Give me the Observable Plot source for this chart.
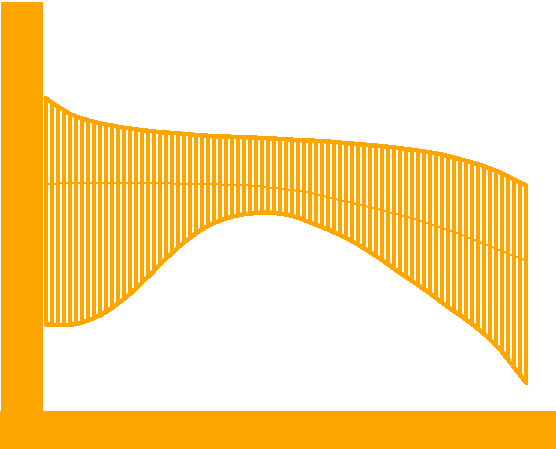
<!DOCTYPE html>
<html>
<head>
<meta charset="utf-8">
<script src="https://cdn.jsdelivr.net/npm/d3@7"></script>
<script src="https://cdn.jsdelivr.net/npm/@observablehq/plot@0.6"></script>
<style>
  body { margin: 0; background: #fff; }
  svg { shape-rendering: crispEdges; }
</style>
</head>
<body>
<div id="chart"></div>
<script>
// band, one value per step (81 steps)
const upper = [78.05, 77, 76, 75.05, 74.15, 73.53, 72.98, 72.58, 72.18, 71.78,
  71.5, 71.23, 70.93, 70.7, 70.5, 70.3, 70.1, 69.93, 69.75, 69.58,
  69.48, 69.38, 69.28, 69.15, 69.03, 68.9, 68.78, 68.68, 68.58, 68.48,
  68.45, 68.43, 68.4, 68.35, 68.28, 68.2, 68.13, 68.05, 67.98, 67.9,
  67.8, 67.7, 67.6, 67.53, 67.48, 67.43, 67.38, 67.25, 67.13, 66.98,
  66.85, 66.73, 66.6, 66.48, 66.35, 66.23, 66.1, 65.93, 65.75, 65.55,
  65.38, 65.18, 64.98, 64.75, 64.5, 64.25, 63.95, 63.58, 63.2, 62.83,
  62.4, 61.98, 61.55, 61.05, 60.48, 59.9, 59.25, 58.5, 57.75, 57, 56.15];

const middle = [56.7, 56.73, 56.75, 56.8, 56.8, 56.8, 56.8, 56.8, 56.8, 56.8,
  56.8, 56.8, 56.8, 56.8, 56.8, 56.8, 56.8, 56.8, 56.8, 56.8,
  56.8, 56.75, 56.75, 56.75, 56.75, 56.7, 56.65, 56.6, 56.55, 56.5,
  56.48, 56.45, 56.4, 56.33, 56.23, 56.1, 55.95, 55.78, 55.6, 55.43,
  55.25, 55.08, 54.93, 54.7, 54.43, 54.1, 53.7, 53.33, 52.95, 52.58,
  52.23, 51.88, 51.55, 51.2, 50.83, 50.45, 50.05, 49.65, 49.25, 48.85,
  48.45, 48.03, 47.6, 47.15, 46.68, 46.18, 45.68, 45.15, 44.6, 44.03,
  43.43, 42.83, 42.23, 41.63, 41.05, 40.45, 39.85, 39.2, 38.6, 38.03, 37.45];

const lower = [21.5, 21.43, 21.38, 21.38, 21.45, 21.63, 21.95, 22.5, 23.13, 23.75,
  24.63, 25.63, 26.75, 27.88, 29.13, 30.5, 31.93, 33.38, 34.88, 36.43,
  37.93, 39.35, 40.7, 41.95, 43.15, 44.25, 45.25, 46.1, 46.85, 47.5,
  48, 48.43, 48.78, 49.05, 49.25, 49.4, 49.48, 49.48, 49.4, 49.25,
  49, 48.63, 48.15, 47.63, 47.05, 46.45, 45.83, 45.2, 44.55, 43.85,
  43.1, 42.3, 41.43, 40.5, 39.55, 38.6, 37.6, 36.55, 35.45, 34.35,
  33.33, 32.33, 31.35, 30.3, 29.23, 28.1, 26.95, 25.85, 24.78, 23.75,
  22.7, 21.55, 20.35, 19.1, 17.75, 16.3, 14.6, 12.63, 10.75, 8.83, 6.88];

const color = "orange";

const rows = upper.map((u, i) => ({step: i, upper: u, middle: middle[i], lower: lower[i]}));

const chart = Plot.plot({
  width: 556,
  height: 449,
  marginLeft: 45.3,
  marginRight: 30.3,
  marginTop: 2,
  marginBottom: 39,
  x: {domain: [0, 80], axis: null},
  y: {domain: [0, 102], axis: null},
  marks: [
    Plot.ruleX(rows, {x: "step", y1: "lower", y2: "upper", stroke: color, strokeWidth: 3.8}),
    Plot.line(rows, {x: "step", y: "upper", stroke: color, strokeWidth: 4.5}),
    Plot.line(rows, {x: "step", y: "lower", stroke: color, strokeWidth: 4.5}),
    Plot.line(rows, {x: "step", y: "middle", stroke: color, strokeWidth: 2}),
    // thick axis bars
    Plot.ruleX([0], {stroke: color, strokeWidth: 42, dx: -24.3, insetBottom: -39}),
    Plot.ruleY([0], {stroke: color, strokeWidth: 39, dy: 19.5, insetLeft: -45.3, insetRight: -30.3})
  ]
});

document.getElementById("chart").append(chart);
</script>
</body>
</html>
